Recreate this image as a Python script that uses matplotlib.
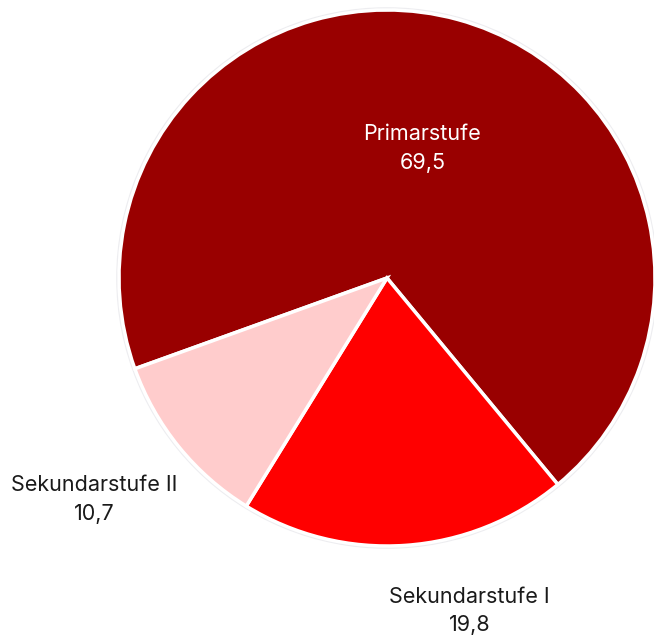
import matplotlib

matplotlib.use("Agg")
import matplotlib.pyplot as plt
import numpy as np

plt.rcParams["font.family"] = ["Inter", "DejaVu Sans"]

# Data
categories = ["Primarstufe", "Sekundarstufe I", "Sekundarstufe II"]
values = [69.5, 19.8, 10.7]
value_labels = ["69,5", "19,8", "10,7"]
colors = ["#990000", "#FF0000", "#FFCCCC"]
text_colors = ["white", "#1a1a1a", "#1a1a1a"]
# label distance (in radii) and angle nudge (deg) for each slice label
label_dist = [0.5, 1.28, 1.37]
label_nudge = [0, 10, -2]

fig = plt.figure(figsize=(6.54, 6.38), dpi=100, facecolor="white")
ax = fig.add_axes([0, 0, 1, 1])
ax.set_facecolor("white")

# faint outline around the pie
ax.add_patch(plt.Circle((0, 0), 1.004, facecolor="none", edgecolor="#ededf0",
                        linewidth=2.5, zorder=0))

wedges, _ = ax.pie(
    values,
    colors=colors,
    startangle=199.8,
    counterclock=False,
    radius=1.0,
    wedgeprops=dict(edgecolor="white", linewidth=2.5),
)

for w, cat, val, tc, d, nudge in zip(wedges, categories, value_labels,
                                      text_colors, label_dist, label_nudge):
    mid = np.deg2rad((w.theta1 + w.theta2) / 2 + nudge)
    x, y = d * np.cos(mid), d * np.sin(mid)
    ax.text(x, y, f"{cat}\n{val}", ha="center", va="center", color=tc,
            fontsize=15.5, linespacing=1.55)

ax.set_xlim(-387 / 268, (654 - 387) / 268)
ax.set_ylim(-(638 - 278) / 268, 278 / 268)
ax.set_aspect("equal")
ax.axis("off")

plt.savefig("out.png", dpi=100, facecolor="white")
plt.close()
